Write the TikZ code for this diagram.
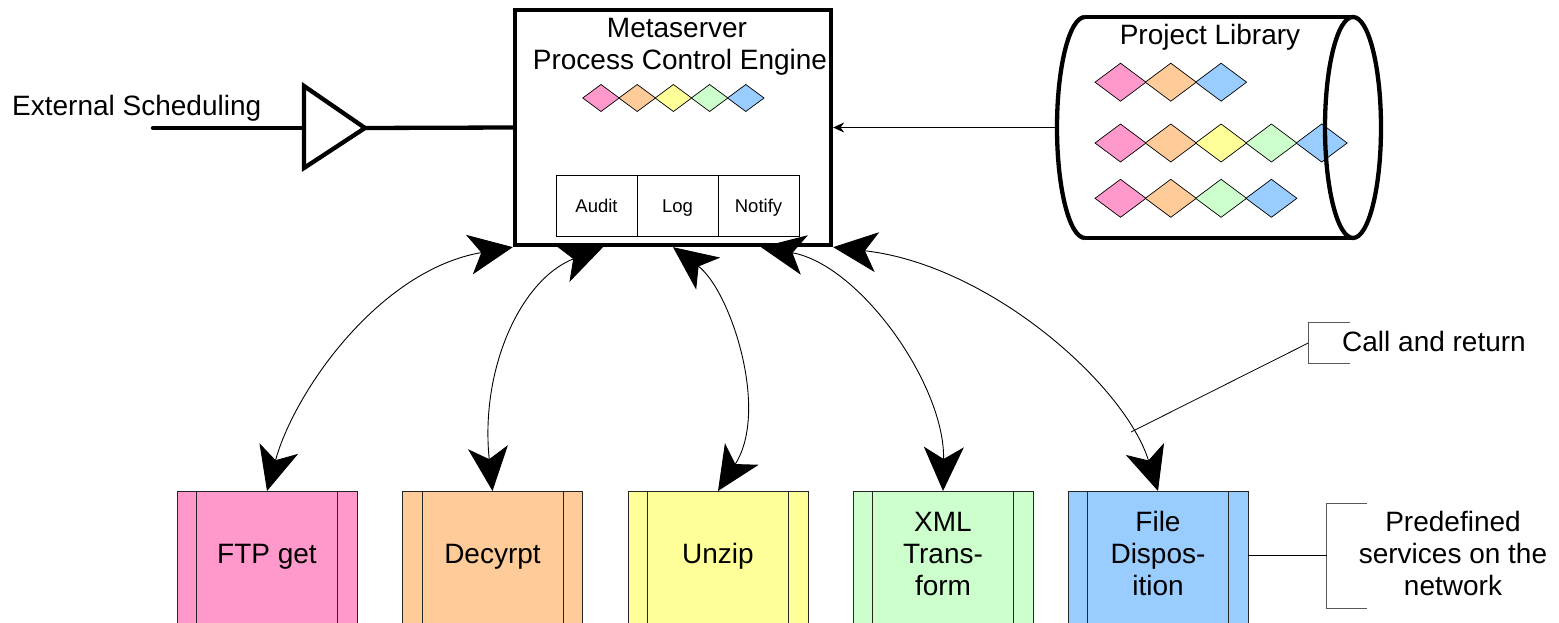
\documentclass[tikz,border=0pt]{standalone}
\usepackage{fontspec}
\setmainfont{Liberation Sans}
\usetikzlibrary{arrows.meta}
\definecolor{cpink}{HTML}{FF99CC}
\definecolor{corange}{HTML}{FFCC99}
\definecolor{cyellow}{HTML}{FFFF99}
\definecolor{cgreen}{HTML}{CCFFCC}
\definecolor{cblue}{HTML}{99CCFF}
\newcommand{\gem}[5]{\draw[gemline, fill=#5] ({#1-#3/2},{#2}) -- ({#1},{#2-#4/2}) -- ({#1+#3/2},{#2}) -- ({#1},{#2+#4/2}) -- cycle;}
\begin{document}
\begin{tikzpicture}[x=1pt,y=-1pt,
  big/.style={font=\fontsize{28}{31.7}\selectfont, inner sep=0pt},
  small/.style={font=\fontsize{18.5}{22}\selectfont},
  gemline/.style={draw=black, line width=0.7pt},
  heavy/.style={line width=4.3pt},
  svc/.style={draw=black!85, line width=0.8pt, minimum width=180pt, minimum height=170pt, anchor=north, inner sep=0pt},
  svcline/.style={draw=black!85, line width=0.8pt},
  subbox/.style={draw, line width=0.9pt, minimum width=81pt, minimum height=61pt, inner sep=0pt, small, text height=13.3pt, text depth=0pt},
  callarrow/.style={line width=0.9pt, {Stealth[length=44pt,width=40pt,inset=12pt]}-{Stealth[length=44pt,width=40pt,inset=12pt]}},
  bracket/.style={draw=black!65, line width=1pt},
  thinline/.style={draw=black, line width=0.8pt}]
\useasboundingbox (0,0) rectangle (1559,623);
\clip (0,0) rectangle (1559,623);

% Metaserver
\node[draw, heavy, minimum width=316pt, minimum height=235pt, inner sep=0pt] (ms) at (673,127.5) {};
\node[big, anchor=base] (mst1) at (677,38) {Metaserver};
\node[big, anchor=base] (mst2) at (680,69.5) {Process Control Engine};
\foreach \c [count=\i from 0] in {cpink,corange,cyellow,cgreen,cblue} {
  \gem{601+36.2*\i}{98}{36.5}{27}{\c}
}
\node[subbox] (audit) at (596.5,205.5) {Audit};
\node[subbox] (log) at (677.5,205.5) {Log};
\node[subbox] (notify) at (758.5,205.5) {Notify};

% External scheduling
\node[big, anchor=base west] (ext) at (12,115.5) {External Scheduling};
\coordinate (schedstart) at (153,128);
\coordinate (trin) at (304,128);
\coordinate (trout) at (365,128);
\draw[heavy, line join=miter] (304,86) -- (trout) -- (304,168) -- cycle;
\draw[heavy, line cap=round] (schedstart) -- (trin);
\draw[heavy] (trout) -- (ms.west);

% Project library
\node[minimum width=325pt, minimum height=221pt, inner sep=0pt, outer sep=0pt] (lib) at (1219.5,127.5) {};
\node[big, anchor=base] (libt) at (1210,45) {Project Library};
\foreach \c [count=\i from 0] in {cpink,corange,cblue} {
  \gem{1120.5+50.3*\i}{82.2}{51}{38}{\c}
}
\foreach \c [count=\i from 0] in {cpink,corange,cyellow,cgreen,cblue} {
  \gem{1120.5+50.3*\i}{143}{51}{38}{\c}
}
\foreach \c [count=\i from 0] in {cpink,corange,cgreen,cblue} {
  \gem{1120.5+50.3*\i}{198.3}{51}{38}{\c}
}
\draw[heavy] (1085,17) -- (1353,17) (1085,238) -- (1353,238);
\draw[heavy] (1085,17) arc[start angle=270, end angle=90, x radius=28, y radius=110.5];
\draw[heavy] (1353,127.5) ellipse [x radius=28, y radius=110.5];
\draw[thinline, -{Stealth[length=11pt,width=10pt]}] (lib.west) -- (ms.east);

% Services
\node[svc, fill=cpink] (ftp) at (267,491) {};
\node[svc, fill=corange] (dec) at (492.5,491) {};
\node[svc, fill=cyellow] (unz) at (718,491) {};
\node[svc, fill=cgreen] (xml) at (943,491) {};
\node[svc, fill=cblue] (file) at (1158,491) {};
\foreach \n in {ftp,dec,unz,xml,file} {
  \draw[svcline] ([xshift=20pt]\n.north west) -- ([xshift=20pt]\n.south west);
  \draw[svcline] ([xshift=-20pt]\n.north east) -- ([xshift=-20pt]\n.south east);
}
\node[big, anchor=base] (ftpt) at (267,563.5) {FTP get};
\node[big, anchor=base] (dect) at (492.5,563.5) {Decyrpt};
\node[big, anchor=base] (unzt) at (718,563.5) {Unzip};
\node[big, anchor=base, align=center] (xmlt) at (943,595) {XML\\Trans-\\form};
\node[big, anchor=base, align=center] (filet) at (1158,595) {File\\Dispos-\\ition};

% Call and return arrows
\draw[callarrow] (ms.south west) .. controls (380,270) and (295,390) .. (ftp.north);
\draw[callarrow] ([xshift=-70pt]ms.south) .. controls (520,280) and (480,370) .. (dec.north);
\draw[callarrow] (ms.south) .. controls (730,290) and (770,410) .. (unz.north);
\draw[callarrow] ([xshift=88pt]ms.south) .. controls (860,265) and (945,385) .. (xml.north);
\draw[callarrow] (ms.south east) .. controls (990,265) and (1125,385) .. (file.north);

% Call and return annotation
\node[big, anchor=base west] (callt) at (1342,351.7) {Call and return};
\coordinate (callbr) at (1308.3,343);
\coordinate (callpt) at (1131,432);
\draw[bracket] (1350,322.7) -- (1308.3,322.7) -- (1308.3,363.3) -- (1350,363.3);
\draw[thinline] (callpt) -- (callbr);

% Predefined services annotation
\node[big, anchor=base, align=center] (predt) at (1453,595) {Predefined\\services on the\\network};
\coordinate (predbr) at (1326.7,555);
\draw[bracket] (1367.3,503.3) -- (1326.7,503.3) -- (1326.7,608.3) -- (1367.3,608.3);
\draw[thinline] (file.east |- predbr) -- (predbr);
\end{tikzpicture}
\end{document}
